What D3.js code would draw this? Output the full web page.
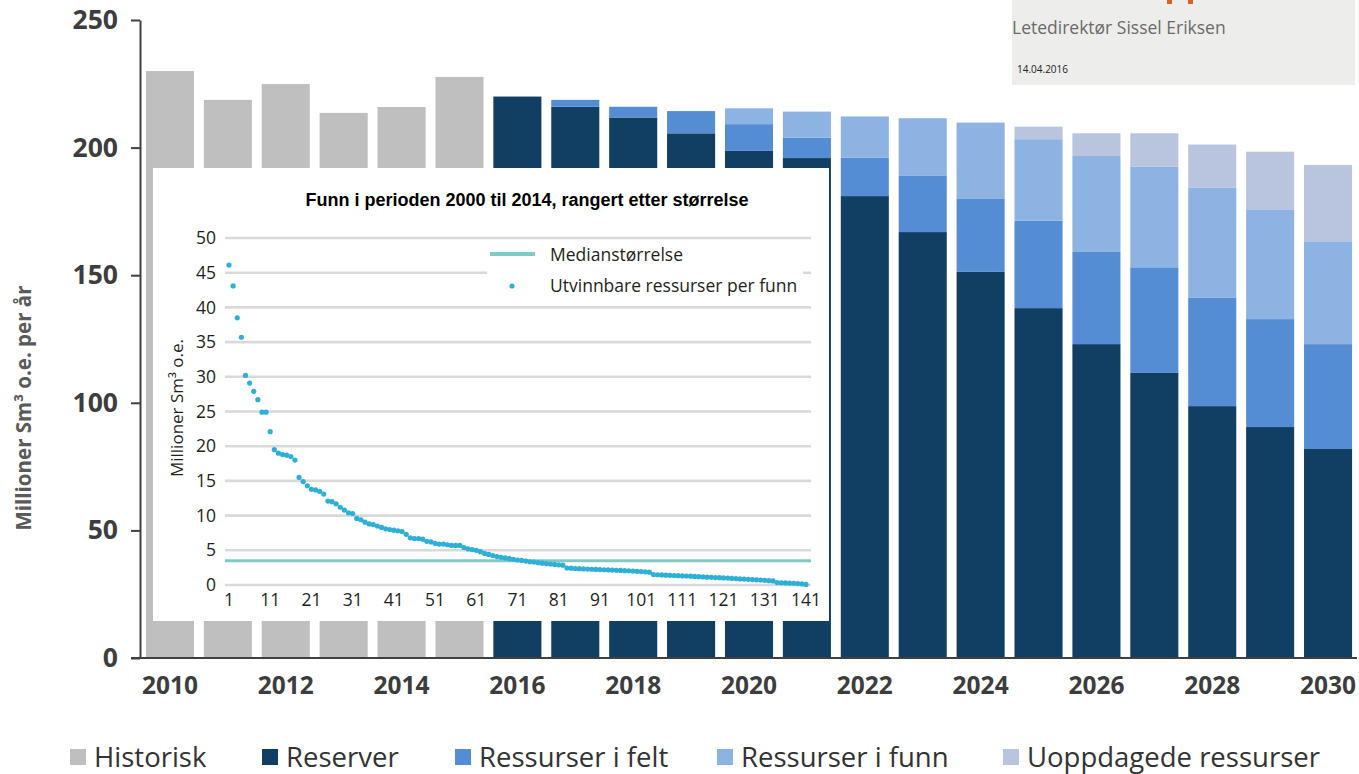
<!DOCTYPE html>
<html>
<head>
<meta charset="utf-8">
<script src="https://cdn.jsdelivr.net/npm/d3@7"></script>
<style>
  body { margin: 0; background: #fff; }
  svg { display: block; }
</style>
</head>
<body>
<svg></svg>
<script>
// main chart: yearly production, Millioner Sm3 o.e. per år
var years = [2010, 2011, 2012, 2013, 2014, 2015, 2016, 2017, 2018, 2019, 2020,
             2021, 2022, 2023, 2024, 2025, 2026, 2027, 2028, 2029, 2030];
var historisk = [230.0, 218.7, 224.9, 213.6, 215.9, 227.7, 0, 0, 0, 0, 0,
                 0, 0, 0, 0, 0, 0, 0, 0, 0, 0];
var reserver  = [0, 0, 0, 0, 0, 0, 220.0, 216.0, 211.8, 205.6, 198.7,
                 195.9, 181.0, 166.9, 151.3, 137.1, 123.0, 111.7, 98.7, 90.5, 81.9];
var felt      = [0, 0, 0, 0, 0, 0, 0, 2.7, 4.2, 8.7, 10.5,
                 8.0, 15.0, 22.0, 28.8, 34.3, 36.1, 41.4, 42.6, 42.3, 41.1];
var funn      = [0, 0, 0, 0, 0, 0, 0, 0, 0, 0, 6.2,
                 10.2, 16.2, 22.6, 29.7, 31.9, 37.6, 39.4, 43.1, 43.0, 40.3];
var uoppdaget = [0, 0, 0, 0, 0, 0, 0, 0, 0, 0, 0,
                 0, 0, 0, 0, 4.9, 8.9, 13.1, 16.8, 22.6, 29.9];
var yTicks = [0, 50, 100, 150, 200, 250];
var xLabels = [2010, 2012, 2014, 2016, 2018, 2020, 2022, 2024, 2026, 2028, 2030];
var seriesNames = ["Historisk", "Reserver", "Ressurser i felt", "Ressurser i funn", "Uoppdagede ressurser"];

// inset: discoveries 2000-2014 ranked by size (Millioner Sm3 o.e.)
var funnSize = [
  46.1, 43.1, 38.5, 35.7, 30.2, 29.1, 27.9, 26.7, 24.9, 24.9,
  22.1, 19.5, 19.0, 18.8, 18.7, 18.5, 18.0, 15.5, 14.9, 14.3,
  13.8, 13.7, 13.5, 13.1, 12.1, 12.0, 11.7, 11.2, 10.8, 10.4,
  10.3, 9.6, 9.4, 9.05, 8.8, 8.7, 8.5, 8.3, 8.1, 8.0,
  7.9, 7.8, 7.7, 7.3, 6.8, 6.7, 6.7, 6.6, 6.3, 6.2,
  6.0, 5.9, 5.9, 5.8, 5.7, 5.7, 5.7, 5.4, 5.2, 5.1,
  5.0, 4.8, 4.55, 4.4, 4.25, 4.1, 4.0, 3.9, 3.8, 3.7,
  3.6, 3.55, 3.45, 3.35, 3.3, 3.22, 3.15, 3.08, 3.02, 2.96,
  2.9, 2.85, 2.45, 2.42, 2.38, 2.35, 2.32, 2.3, 2.27, 2.25,
  2.22, 2.2, 2.17, 2.15, 2.12, 2.1, 2.07, 2.05, 2.0, 1.97,
  1.93, 1.9, 1.85, 1.5, 1.48, 1.45, 1.42, 1.4, 1.37, 1.35,
  1.32, 1.3, 1.27, 1.23, 1.2, 1.17, 1.13, 1.1, 1.07, 1.05,
  1.02, 1.0, 0.95, 0.92, 0.88, 0.85, 0.82, 0.78, 0.75, 0.72,
  0.68, 0.62, 0.58, 0.35, 0.32, 0.3, 0.27, 0.25, 0.2, 0.15,
  0.08
];
var medianSize = 3.5;
var insetYTicks = [0, 5, 10, 15, 20, 25, 30, 35, 40, 45, 50];
var insetXTicks = [1, 11, 21, 31, 41, 51, 61, 71, 81, 91, 101, 111, 121, 131, 141];

var width = 1359;
var height = 774;
var colors = ["#bfbfbf", "#113e63", "#558dd4", "#8db3e2", "#b9c4de"];
var mainFont = "'Open Sans', 'DejaVu Sans', sans-serif";

var svg = d3.select("svg")
            .attr("width", width)
            .attr("height", height);

var xScale = d3.scaleBand()
               .domain(years)
               .range([141, 1357])
               .paddingInner(0.17)
               .paddingOuter(0.085);

var yScale = d3.scaleLinear()
               .domain([0, 250])
               .range([658, 20]);

// stack the five series
var rows = years.map(function(y, i) {
  return { year: y, "Historisk": historisk[i], "Reserver": reserver[i],
           "Ressurser i felt": felt[i], "Ressurser i funn": funn[i],
           "Uoppdagede ressurser": uoppdaget[i] };
});
var stacked = d3.stack().keys(seriesNames)(rows);

svg.append("g")
   .selectAll("g")
   .data(stacked)
   .enter().append("g")
     .attr("fill", (d, i) => colors[i])
   .selectAll("rect")
   .data(d => d.filter(p => p[1] - p[0] > 0))
   .enter().append("rect")
     .attr("x", d => xScale(d.data.year))
     .attr("width", xScale.bandwidth())
     .attr("y", d => yScale(d[1]))
     .attr("height", d => yScale(d[0]) - yScale(d[1]));

// y axis
var yAxis = svg.append("g")
   .attr("transform", "translate(140,0)")
   .call(d3.axisLeft(yScale)
      .tickValues(yTicks)
      .tickSize(9)
      .tickSizeOuter(0)
      .tickPadding(13));
yAxis.select(".domain").attr("stroke", "#404040").attr("stroke-width", 2);
yAxis.selectAll(".tick line").attr("stroke", "#404040").attr("stroke-width", 2);
yAxis.selectAll(".tick text")
     .style("font-family", mainFont)
     .style("font-weight", "bold")
     .style("font-size", "26.5px")
     .attr("fill", "#3d3d3d");

// x axis
var xAxis = svg.append("g")
   .attr("transform", "translate(0,658)")
   .call(d3.axisBottom(xScale)
      .tickValues(xLabels)
      .tickSize(0)
      .tickPadding(19));
xAxis.select(".domain").remove();
xAxis.selectAll(".tick text")
     .style("font-family", mainFont)
     .style("font-weight", "bold")
     .style("font-size", "24.5px")
     .attr("fill", "#3d3d3d");
svg.append("line")
   .attr("x1", 131).attr("x2", 1357)
   .attr("y1", 658).attr("y2", 658)
   .attr("stroke", "#404040")
   .attr("stroke-width", 2);

// y axis title
svg.append("text")
   .attr("transform", "translate(31,408) rotate(-90)")
   .attr("text-anchor", "middle")
   .style("font-family", mainFont)
   .style("font-weight", "bold")
   .style("font-size", "20.5px")
   .attr("fill", "#5a5a5a")
   .text("Millioner Sm³ o.e. per år");

// bottom legend
var legendX = [70, 262, 455, 717, 1003];
var legend = svg.append("g")
   .selectAll("g")
   .data(seriesNames)
   .enter().append("g")
     .attr("transform", (d, i) => "translate(" + legendX[i] + ",749)");
legend.append("rect")
   .attr("width", 16).attr("height", 16)
   .attr("fill", (d, i) => colors[i]);
legend.append("text")
   .attr("x", 24).attr("y", 8).attr("dy", "0.36em")
   .style("font-family", mainFont)
   .style("font-size", "27.5px")
   .attr("fill", "#333")
   .text(d => d);

// top right slide footer box
svg.append("rect")
   .attr("x", 1012).attr("y", 0)
   .attr("width", 343).attr("height", 85)
   .attr("fill", "#ededeb");
svg.append("rect").attr("x", 1167).attr("y", 0).attr("width", 5).attr("height", 4).attr("fill", "#d5622b");
svg.append("rect").attr("x", 1188).attr("y", 0).attr("width", 5).attr("height", 4).attr("fill", "#d5622b");
svg.append("text")
   .attr("x", 1012).attr("y", 28).attr("dy", "0.35em")
   .style("font-family", mainFont)
   .style("font-size", "17.5px")
   .attr("fill", "#6a6a6a")
   .text("Letedirektør Sissel Eriksen");
svg.append("text")
   .attr("x", 1017).attr("y", 69).attr("dy", "0.35em")
   .style("font-family", mainFont)
   .style("font-size", "10px")
   .attr("fill", "#222")
   .text("14.04.2016");

// ---- inset chart ----
var inset = svg.append("g");
inset.append("rect")
   .attr("x", 153).attr("y", 168)
   .attr("width", 676).attr("height", 453)
   .attr("fill", "#fff");

var xIn = d3.scaleLinear().domain([1, 141]).range([229, 806]);
var yIn = d3.scaleLinear().domain([0, 50]).range([585, 238]);
var insetFont = "'Open Sans', 'Noto Sans', sans-serif";

inset.append("text")
   .attr("x", 527).attr("y", 206)
   .attr("text-anchor", "middle")
   .style("font-family", "'Liberation Sans', Arial, sans-serif")
   .style("font-weight", "bold")
   .style("font-size", "18px")
   .attr("fill", "#000")
   .text("Funn i perioden 2000 til 2014, rangert etter størrelse");

// gridlines
inset.append("g")
   .selectAll("line")
   .data(insetYTicks)
   .enter().append("line")
     .attr("x1", 225).attr("x2", 811)
     .attr("y1", d => yIn(d)).attr("y2", d => yIn(d))
     .attr("stroke", "#d9d9d9")
     .attr("stroke-width", 2.6);

inset.append("g")
   .selectAll("text")
   .data(insetYTicks)
   .enter().append("text")
     .attr("x", 216).attr("y", d => yIn(d)).attr("dy", "0.35em")
     .attr("text-anchor", "end")
     .style("font-family", insetFont)
     .style("font-size", "17.5px")
     .attr("fill", "#231f20")
     .text(d => d);

inset.append("g")
   .selectAll("text")
   .data(insetXTicks)
   .enter().append("text")
     .attr("x", d => xIn(d)).attr("y", 600).attr("dy", "0.35em")
     .attr("text-anchor", "middle")
     .style("font-family", insetFont)
     .style("font-size", "17.5px")
     .attr("fill", "#231f20")
     .text(d => d);

inset.append("text")
   .attr("transform", "translate(177,408) rotate(-90)")
   .attr("text-anchor", "middle")
   .attr("dy", "0.35em")
   .style("font-family", insetFont)
   .style("font-size", "17px")
   .attr("fill", "#231f20")
   .text("Millioner Sm³ o.e.");

// inset legend
inset.append("rect")
   .attr("x", 487).attr("y", 244)
   .attr("width", 316).attr("height", 56)
   .attr("fill", "#fff");
inset.append("line")
   .attr("x1", 490).attr("x2", 535)
   .attr("y1", 254).attr("y2", 254)
   .attr("stroke", "#80cac4")
   .attr("stroke-width", 4);
inset.append("circle")
   .attr("cx", 512).attr("cy", 286).attr("r", 2.6)
   .attr("fill", "#2eb0d6");
inset.append("text")
   .attr("x", 550).attr("y", 255).attr("dy", "0.35em")
   .style("font-family", insetFont)
   .style("font-size", "17.5px")
   .attr("fill", "#231f20")
   .text("Medianstørrelse");
inset.append("text")
   .attr("x", 550).attr("y", 286).attr("dy", "0.35em")
   .style("font-family", insetFont)
   .style("font-size", "17.5px")
   .attr("fill", "#231f20")
   .text("Utvinnbare ressurser per funn");

// median line
inset.append("line")
   .attr("x1", 225).attr("x2", 811)
   .attr("y1", yIn(medianSize)).attr("y2", yIn(medianSize))
   .attr("stroke", "#80cac4")
   .attr("stroke-width", 3);

// discoveries
inset.append("g")
   .selectAll("circle")
   .data(funnSize)
   .enter().append("circle")
     .attr("cx", (d, i) => xIn(i + 1))
     .attr("cy", d => yIn(d))
     .attr("r", 2.6)
     .attr("fill", "#2eb0d6");
</script>
</body>
</html>
